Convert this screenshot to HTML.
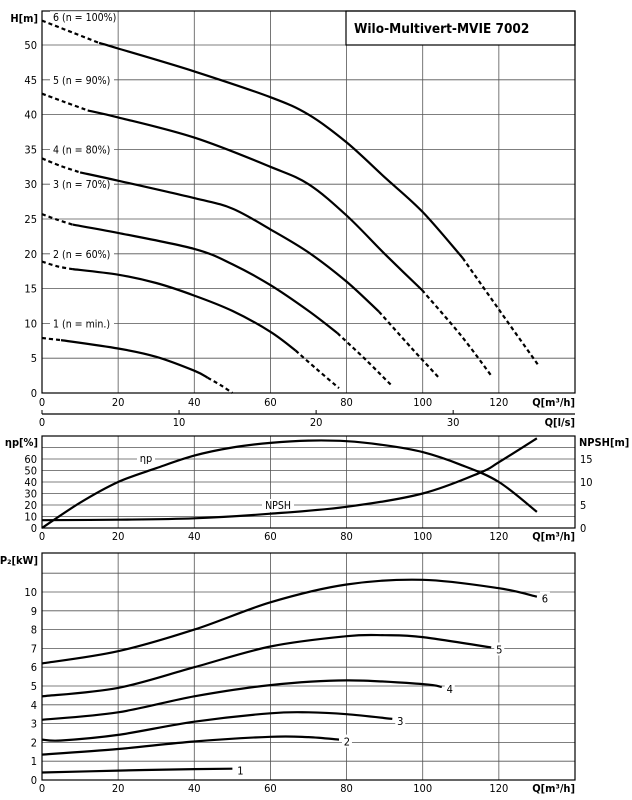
<!DOCTYPE html>
<html><head><meta charset="utf-8"><style>
html,body{margin:0;padding:0;background:#fff;width:632px;height:800px;overflow:hidden}
svg{display:block;font-family:"DejaVu Sans Condensed","Liberation Sans",sans-serif}
</style></head><body>
<svg id="c" width="632" height="800" viewBox="0 0 632 800" xmlns="http://www.w3.org/2000/svg"></svg>
<script>
// ---- data ----
const qTicks=[0,20,40,60,80,100,120];
const lsTicks=[0,10,20,30];
const hTicks=[0,5,10,15,20,25,30,35,40,45,50];
const etaTicks=[0,10,20,30,40,50,60];
const npshTicks=[0,5,10,15];
const pTicks=[0,1,2,3,4,5,6,7,8,9,10];
// H curves: [dashStart, solid, dashEnd] as [Q,H]
const h6=[[[0,53.5],[8,51.8],[15,50.3]],[[15,50.3],[20,49.5],[40,46.2],[60,42.5],[70,40],[80,36],[90,31],[100,26],[110.5,19.4]],[[110.5,19.4],[120,12],[130.5,3.9]]];
const h5=[[[0,43],[6,41.8],[12,40.6]],[[12,40.6],[20,39.6],[40,36.7],[60,32.5],[70,30],[80,25.5],[90,20],[99.8,14.8]],[[99.8,14.8],[110,8.3],[118,2.5]]];
const h4=[[[0,33.7],[5,32.6],[10,31.7]],[[10,31.7],[20,30.5],[40,28],[50,26.5],[60,23.5],[70,20.2],[80,16],[88.5,11.7]],[[88.5,11.7],[97,6.5],[104.4,2.1]]];
const h3=[[[0,25.7],[4,24.9],[8,24.2]],[[8,24.2],[20,23],[40,20.7],[50,18.5],[60,15.5],[70,11.8],[77.6,8.6]],[[77.6,8.6],[85,4.8],[91.6,1.2]]];
const h2=[[[0,18.9],[4,18.2],[8,17.8]],[[8,17.8],[20,17],[30,15.8],[40,14],[50,11.8],[60,8.8],[66.6,6.1]],[[66.6,6.1],[72,3.5],[78,0.7]]];
const h1=[[[0,7.9],[5,7.6]],[[5,7.6],[20,6.4],[30,5.2],[40,3.2],[43.5,2.2]],[[43.5,2.2],[47,1.1],[50,0]]];
const hCurves=[h1,h2,h3,h4,h5,h6];
const hLabels=["1 (n = min.)","2 (n = 60%)","3 (n = 70%)","4 (n = 80%)","5 (n = 90%)","6 (n = 100%)"];
const hLabelY=[10,20,30,35,45,54];
const etaQ=[0,10,20,30,40,50,60,70,80,90,100,110,120,130];
const etaV=[0,22,40,52,63,70,74,76,75.5,72,66,55,40,14];
const npshQ=[0,20,40,60,80,100,115,120,130];
const npshV=[1.7,1.8,2.1,3.1,4.6,7.5,12,14.3,19.5];
const pQ=[[0,20,40,50],[0,20,40,60,70,78],[0,5,20,40,60,70,80,92],[0,20,40,60,80,100,105],[0,20,40,60,80,90,100,118],[0,20,40,60,80,100,120,130]];
const pV=[[0.4,0.5,0.58,0.6],[1.35,1.65,2.05,2.3,2.28,2.15],[2.15,2.1,2.4,3.1,3.55,3.6,3.5,3.25],[3.2,3.6,4.45,5.05,5.3,5.1,4.95],[4.45,4.9,6.0,7.1,7.65,7.7,7.6,7.05],[6.2,6.85,8.0,9.45,10.4,10.65,10.2,9.75]];
// ---- scales ----
const X0=42,X1=575;
const xq=q=>X0+q*(X1-X0)/140;
const yH=h=>393-h*6.96;
const yE=e=>528-e*1.15;
const yN=n=>528-n*4.6;
const yP=p=>780-p*18.8;
const svg=document.getElementById('c');
const NS='http://www.w3.org/2000/svg';
function el(t,a,p){const e=document.createElementNS(NS,t);for(const k in a)e.setAttribute(k,a[k]);(p||svg).appendChild(e);return e;}
function txt(s,x,y,anchor,size,weight){const e=el('text',{x:x,y:y,'text-anchor':anchor||'middle','font-size':size||11,'font-weight':weight||'normal',fill:'#000'});e.textContent=s;return e;}
function smooth(pts){let d='M'+pts[0][0].toFixed(1)+','+pts[0][1].toFixed(1);
 for(let i=0;i<pts.length-1;i++){const p0=pts[i-1]||pts[i],p1=pts[i],p2=pts[i+1],p3=pts[i+2]||p2;
 const c1=[p1[0]+(p2[0]-p0[0])/6,p1[1]+(p2[1]-p0[1])/6],c2=[p2[0]-(p3[0]-p1[0])/6,p2[1]-(p3[1]-p1[1])/6];
 d+='C'+c1[0].toFixed(1)+','+c1[1].toFixed(1)+' '+c2[0].toFixed(1)+','+c2[1].toFixed(1)+' '+p2[0].toFixed(1)+','+p2[1].toFixed(1);}return d;}
function vgrid(yt,yb,g){qTicks.slice(1).forEach(q=>{const l=el('line',{x1:xq(q),x2:xq(q),y1:yt,y2:yb,stroke:'#555','stroke-width':0.8},g);

});}
function qLabels(y){qTicks.forEach(q=>{const t=txt(String(q),xq(q),y,'middle',11);

});
const u=txt('Q[m³/h]',X1,y,'end',11,'bold');

}
// ---- H chart ----
const g1=el('g',{});


const top1=11;
vgrid(top1,393,g1);
hTicks.forEach(h=>{if(h>0){const l=el('line',{x1:X0,x2:X1,y1:yH(h),y2:yH(h),stroke:'#555','stroke-width':0.8},g1);

}
const t=txt(String(h),37,yH(h)+4,'end',11);

});
const tb=el('rect',{x:346,y:top1,width:X1-346,height:34,fill:'#fff',stroke:'#000','stroke-width':1.2},g1);


const tt=txt('Wilo-Multivert-MVIE 7002',354,top1+22,'start',13.5,'bold');


const f1=el('rect',{x:X0,y:top1,width:X1-X0,height:393-top1,fill:'none',stroke:'#000','stroke-width':1.2},g1);


const hy=txt('H[m]',38,22,'end',11,'bold');


hLabels.forEach((s,i)=>{const y=yH(hLabelY[i])+4;
const bg=el('rect',{x:50,y:y-10,width:i==5?50:64,height:13,fill:'#fff'},g1);


const t=txt(s,53,y,'start',10.5);

});
hCurves.forEach((c,i)=>{c.forEach((seg,j)=>{const p=el('path',{d:smooth(seg.map(a=>[xq(a[0]),yH(a[1])])),fill:'none',stroke:'#000','stroke-width':2.2,'stroke-dasharray':j==1?'none':'4 3'},g1);

});});
qLabels(406);
// l/s axis
const la=el('line',{x1:X0,x2:X1,y1:414,y2:414,stroke:'#000','stroke-width':1.2});


lsTicks.forEach(v=>{const x=xq(v*3.6);const k=el('line',{x1:x,x2:x,y1:414,y2:410,stroke:'#000'});


const t=txt(String(v),x,426,'middle',11);

});
const lu=txt('Q[l/s]',X1,426,'end',11,'bold');


// ---- efficiency / NPSH ----
const g2=el('g',{});


const top2=436;
vgrid(top2,528,g2);
[10,20,30,40,50,60,70].forEach(e=>{const l=el('line',{x1:X0,x2:X1,y1:yE(e),y2:yE(e),stroke:'#555','stroke-width':0.8},g2);

});
etaTicks.forEach(e=>{const t=txt(String(e),37,yE(e)+4,'end',11);

});
npshTicks.forEach(n=>{const t=txt(String(n),580,yN(n)+4,'start',11);

});
const f2=el('rect',{x:X0,y:top2,width:X1-X0,height:528-top2,fill:'none',stroke:'#000','stroke-width':1.2},g2);


const et=txt('ηp[%]',38,446,'end',11,'bold');


const nt=txt('NPSH[m]',579,446,'start',11,'bold');


const eb=el('rect',{x:137,y:452,width:18,height:13,fill:'#fff'},g2);


const el1=txt('ηp',146,462,'middle',11);


const nb=el('rect',{x:262,y:499,width:32,height:13,fill:'#fff'},g2);


const nl=txt('NPSH',278,509,'middle',10.5);


const ep=el('path',{d:smooth(etaQ.map((q,i)=>[xq(q),yE(etaV[i])])),fill:'none',stroke:'#000','stroke-width':2.2},g2);


const np=el('path',{d:smooth(npshQ.map((q,i)=>[xq(q),yN(npshV[i])])),fill:'none',stroke:'#000','stroke-width':2.2},g2);


qLabels(540);
// ---- power ----
const g3=el('g',{});


const top3=553;
vgrid(top3,780,g3);
[1,2,3,4,5,6,7,8,9,10,11].forEach(p=>{const l=el('line',{x1:X0,x2:X1,y1:yP(p),y2:yP(p),stroke:'#555','stroke-width':0.8},g3);

});
pTicks.forEach(p=>{const t=txt(String(p),37,yP(p)+4,'end',11);

});
const f3=el('rect',{x:X0,y:top3,width:X1-X0,height:780-top3,fill:'none',stroke:'#000','stroke-width':1.2},g3);


const pt=txt('P₂[kW]',38,564,'end',11,'bold');


pQ.forEach((qs,i)=>{const pts=qs.map((q,j)=>[xq(q),yP(pV[i][j])]);
const p=el('path',{d:smooth(pts),fill:'none',stroke:'#000','stroke-width':2.2},g3);


const last=pts[pts.length-1];
const b=el('rect',{x:last[0]+3,y:last[1]-5,width:10,height:13,fill:'#fff'},g3);


const t=txt(String(i+1),last[0]+8,last[1]+6,'middle',11);

});
qLabels(792);
</script>
</body></html>
